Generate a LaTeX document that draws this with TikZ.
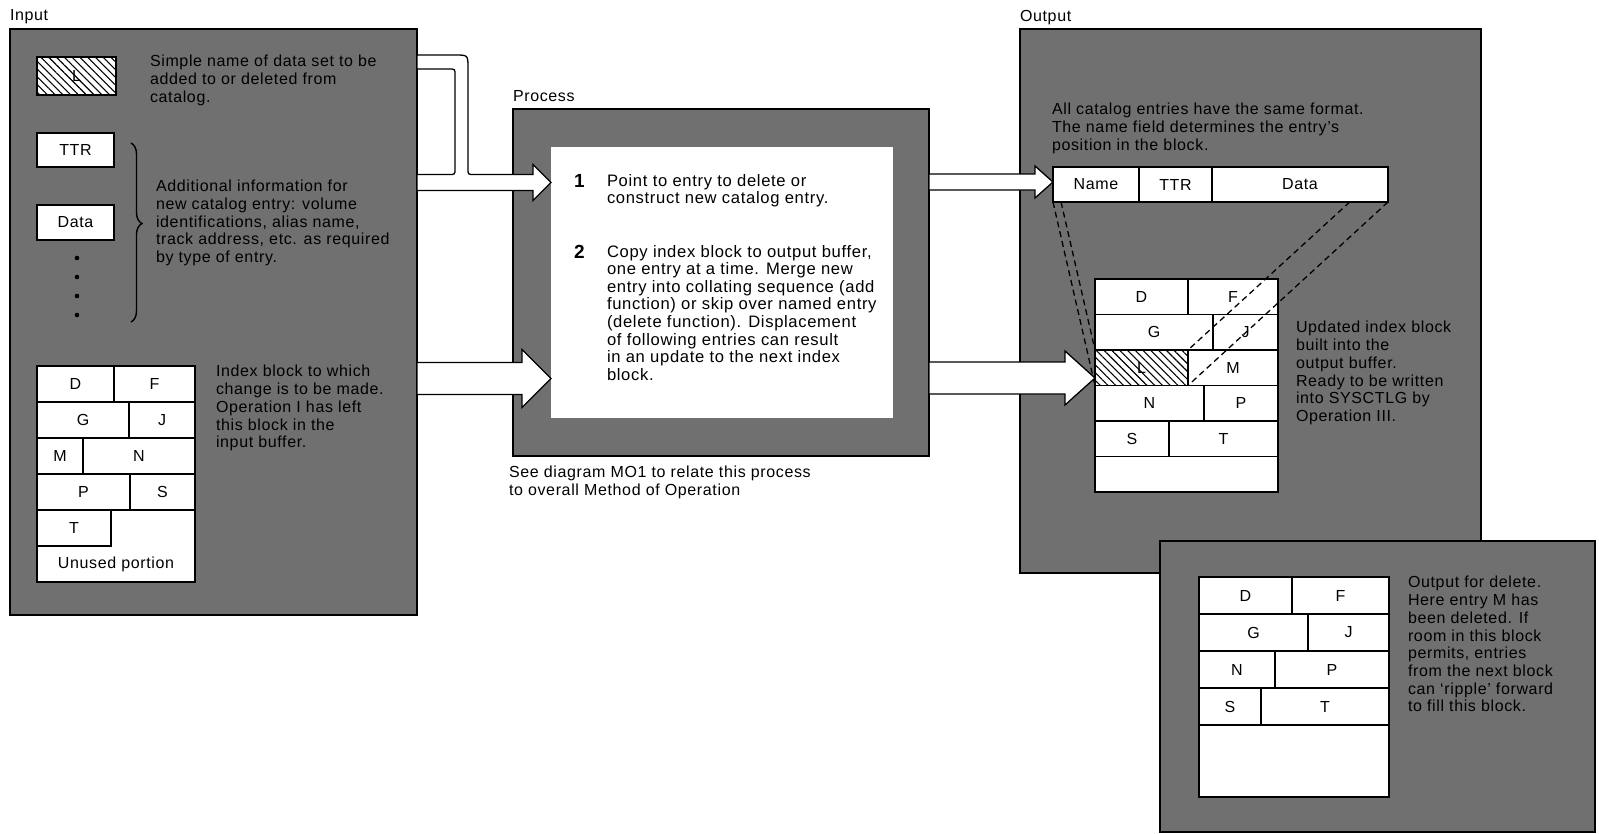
\documentclass[tikz,border=0pt]{standalone}
\usepackage{fontspec}
\setmainfont{Liberation Sans}[LetterSpace=4]
\usetikzlibrary{positioning, calc, patterns.meta, decorations.pathreplacing}
\definecolor{screengray}{RGB}{112,112,112}

% wide white arrow: start, tip, half shaft, half head, head length
\newcommand{\blockarrow}[5]{%
  \draw[blockarrow] let \p1=#1, \p2=#2 in
    (\x1,\y2+#3) -- (\x2-#5,\y2+#3) -- (\x2-#5,\y2+#4) -- (\x2,\y2)
    -- (\x2-#5,\y2-#4) -- (\x2-#5,\y2-#3) -- (\x1,\y2-#3) -- cycle;}

\begin{document}
\begin{tikzpicture}[
    x=1pt, y=-1pt,
    every node/.style={font=\fontsize{16}{17.7}\selectfont, inner sep=0pt, outer sep=0pt},
    panel/.style={rectangle, draw=black, fill=screengray, line width=2pt, anchor=north west},
    whitebox/.style={rectangle, fill=white, anchor=north west},
    cell/.style={rectangle, draw=black, fill=white, line width=1.5pt, anchor=north west,
                 minimum height=#1},
    cell/.default=36pt,
    hatched/.style={rectangle, draw=black, line width=1.5pt, anchor=north west, minimum height=#1,
                    preaction={fill=white},
                    pattern={Lines[angle=-45, distance=5.5pt, line width=1.1pt]}},
    hatched/.default=36pt,
    note/.style={align=left, anchor=north west},
    steptext/.style={note, font=\fontsize{16.6}{17.6}\selectfont},
    paneltitle/.style={anchor=base west},
    stepnum/.style={anchor=base west, font=\fontsize{19}{19}\selectfont\bfseries},
    blockarrow/.style={draw=black, fill=white, line width=1.3pt, line join=miter},
    dashline/.style={black, line width=1.3pt, dash pattern=on 6pt off 4pt},
    bracket/.style={decorate, decoration={brace, amplitude=11pt, aspect=0.45}, line width=1.4pt}
]
\useasboundingbox (0,0) rectangle (1599,833);

% Panels
\node[panel, minimum width=407pt, minimum height=586pt] (inpanel) at (10,29) {};
\node[panel, minimum width=416pt, minimum height=347pt] (procpanel) at (513,109) {};
\node[panel, minimum width=461pt, minimum height=544pt] (outpanel) at (1020,29) {};
\node[panel, minimum width=435pt, minimum height=291pt] (delpanel) at (1160,541) {};

\node[paneltitle] (intitle) at ([yshift=9pt]inpanel.north west) {Input};
\node[paneltitle] (proctitle) at ([yshift=8pt]procpanel.north west) {Process};
\node[paneltitle] (outtitle) at ([yshift=8pt]outpanel.north west) {Output};

% Input
\node[hatched=38pt, minimum width=79pt] (inL) at (37,57) {L};
\node[cell=34pt, minimum width=77pt] (inttr) at (37,133) {TTR};
\node[cell=35pt, minimum width=77pt] (indata) at (37,205) {Data};
\foreach \y in {258,277,296,315} \fill (77,\y) circle (2.3pt);
\draw[bracket] (131,143) -- (131,322);

\node[note] (namenote) at (150,55.3) {Simple name of data set to be\\added to or deleted from\\catalog.};
\node[note] (infonote) at (156,180.3) {Additional information for\\new catalog entry: volume\\identifications, alias name,\\track address, etc. as required\\by type of entry.};

% Input index block
\node[cell=216pt, minimum width=158pt] (inblock) at (37,366) {};
\node[cell, minimum width=77pt] (iD) at (37,366) {D};
\node[cell, minimum width=81pt, right=0pt of iD] (iF) {F};
\node[cell, minimum width=92pt] (iG) at (37,402) {G};
\node[cell, minimum width=66pt, right=0pt of iG] (iJ) {J};
\node[cell, minimum width=46pt] (iM) at (37,438) {M};
\node[cell, minimum width=112pt, right=0pt of iM] (iN) {N};
\node[cell, minimum width=93pt] (iP) at (37,474) {P};
\node[cell, minimum width=65pt, right=0pt of iP] (iS) {S};
\node[cell, minimum width=74pt] (iT) at (37,510) {T};
\node (unused) at (116,564) {Unused portion};

\node[note] (blocknote) at (216,365.3) {Index block to which\\change is to be made.\\Operation I has left\\this block in the\\input buffer.};

% Process
\node[whitebox, minimum width=342pt, minimum height=271pt] (procbox) at (551,147) {};
\node[stepnum] (num1) at (574,187) {1};
\node[steptext] (step1) at (607,174) {Point to entry to delete or\\construct new catalog entry.};
\node[stepnum] (num2) at (574,258) {2};
\node[steptext] (step2) at (607,245) {Copy index block to output buffer,\\one entry at a time. Merge new\\entry into collating sequence (add\\function) or skip over named entry\\(delete function). Displacement\\of following entries can result\\in an update to the next index\\block.};
\node[note] (seenote) at ([xshift=-4pt, yshift=-10.3pt]procpanel.south west) {See diagram MO1 to relate this process\\to overall Method of Operation};

% Output
\node[note] (fmtnote) at (1052,103.3) {All catalog entries have the same format.\\The name field determines the entry's\\position in the block.};
\node[cell=35pt, minimum width=86pt] (fname) at (1053,167) {Name};
\node[cell=35pt, minimum width=73pt, right=0pt of fname] (fttr) {TTR};
\node[cell=35pt, minimum width=176pt, right=0pt of fttr] (fdata) {Data};

\node[cell=213pt, minimum width=183pt] (newblock) at (1095,279) {};
\node[cell=35.5pt, minimum width=93pt] (uD) at (1095,279) {D};
\node[cell=35.5pt, minimum width=90pt, right=0pt of uD] (uF) {F};
\node[cell=35.5pt, minimum width=118pt] (uG) at (1095,314.5) {G};
\node[cell=35.5pt, minimum width=65pt, right=0pt of uG] (uJ) {J};
\node[hatched=35.5pt, minimum width=93pt] (uL) at (1095,350) {L};
\node[cell=35.5pt, minimum width=90pt, right=0pt of uL] (uM) {M};
\node[cell=35.5pt, minimum width=109pt] (uN) at (1095,385.5) {N};
\node[cell=35.5pt, minimum width=74pt, right=0pt of uN] (uP) {P};
\node[cell=35.5pt, minimum width=74pt] (uS) at (1095,421) {S};
\node[cell=35.5pt, minimum width=109pt, right=0pt of uS] (uT) {T};

\node[note] (newnote) at (1296,321.3) {Updated index block\\built into the\\output buffer.\\Ready to be written\\into SYSCTLG by\\Operation III.};

% Entry to block projection
\draw[dashline] ($(fname.north west)!0.191!(uL.north west)$) -- (uL.north west);
\draw[dashline] (fname.south west) -- (uL.south west);
\draw[dashline] ($(fdata.north east)!0.191!(uL.north east)$) -- (uL.north east);
\draw[dashline] (fdata.south east) -- (uL.south east);

% Output for delete
\node[cell=220pt, minimum width=190pt] (delblock) at (1199,577) {};
\node[cell=37pt, minimum width=93pt] (dD) at (1199,577) {D};
\node[cell=37pt, minimum width=97pt, right=0pt of dD] (dF) {F};
\node[cell=37pt, minimum width=109pt] (dG) at (1199,614) {G};
\node[cell=37pt, minimum width=81pt, right=0pt of dG] (dJ) {J};
\node[cell=37pt, minimum width=76pt] (dN) at (1199,651) {N};
\node[cell=37pt, minimum width=114pt, right=0pt of dN] (dP) {P};
\node[cell=37pt, minimum width=62pt] (dS) at (1199,688) {S};
\node[cell=37pt, minimum width=128pt, right=0pt of dS] (dT) {T};

\node[note] (delnote) at (1408,576.3) {Output for delete.\\Here entry M has\\been deleted. If\\room in this block\\permits, entries\\from the next block\\can `ripple' forward\\to fill this block.};

% Arrows
\coordinate (tipB) at (551,378.5);
\coordinate (tipC) at (1053,182);
\coordinate (tipD) at (1095,378);
\draw[blockarrow] (417,55) -- (455,55) .. controls (468,55) .. (468,68)
    -- (468,168.5) .. controls (468,174.5) .. (474,174.5) -- (533,174.5)
    -- (533,164.5) -- (551,182.5) -- (533,200.5) -- (533,190.5) -- (417,190.5)
    -- (417,174.5) -- (449,174.5) .. controls (455,174.5) .. (455,168.5)
    -- (455,75) .. controls (455,69) .. (449,69) -- (417,69) -- cycle;
\blockarrow{(inpanel.east |- tipB)}{(tipB)}{16pt}{29pt}{29pt}
\blockarrow{(procpanel.east |- tipC)}{(tipC)}{8pt}{16pt}{18pt}
\blockarrow{(procpanel.east |- tipD)}{(tipD)}{16pt}{27pt}{30pt}

\end{tikzpicture}
\end{document}
